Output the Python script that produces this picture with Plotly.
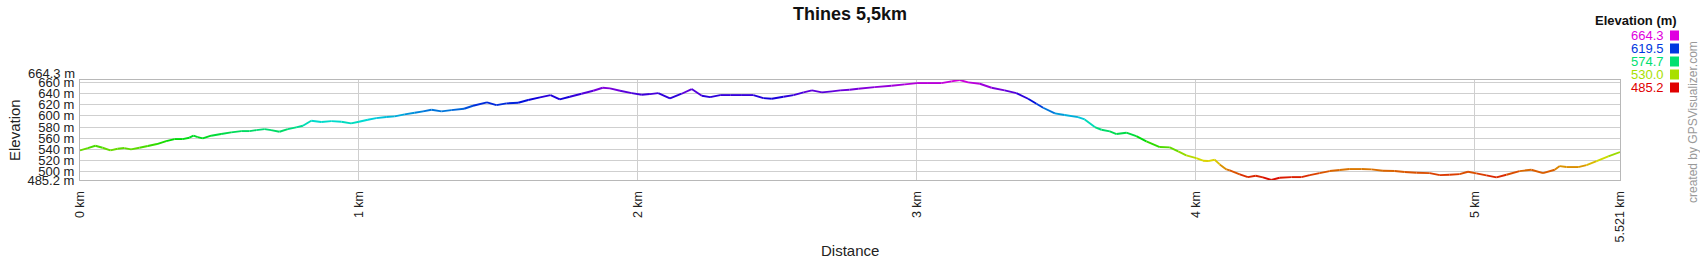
import colorsys
import plotly.graph_objects as go

# ---------------- data ----------------
DIST_KM = [
    0.000, 0.028, 0.055, 0.081, 0.109, 0.135, 0.159, 0.183, 0.213, 0.243, 0.276, 0.309, 0.339, 0.368, 0.392, 0.407,
    0.422, 0.440, 0.470, 0.506, 0.542, 0.578, 0.608, 0.632, 0.662, 0.685, 0.715, 0.745, 0.775, 0.799, 0.829, 0.865,
    0.901, 0.937, 0.972, 1.000, 1.032, 1.062, 1.098, 1.128, 1.164, 1.200, 1.230, 1.260, 1.296, 1.331, 1.377,
    1.409, 1.459, 1.493, 1.529, 1.571, 1.607, 1.649, 1.687, 1.720, 1.756, 1.798, 1.840, 1.874, 1.900, 1.936, 1.978,
    2.014, 2.043, 2.073, 2.115, 2.157, 2.193, 2.229, 2.259, 2.295, 2.331, 2.373, 2.414, 2.450, 2.480, 2.522, 2.558,
    2.594, 2.624, 2.660, 2.696, 2.725, 2.759,
    2.790, 2.849, 2.909, 2.957, 3.001, 3.040, 3.088, 3.124, 3.154, 3.184, 3.226, 3.268, 3.315, 3.357, 3.399, 3.429,
    3.453, 3.495, 3.530, 3.578, 3.602, 3.638, 3.662, 3.692, 3.716, 3.751, 3.787, 3.823, 3.871, 3.907, 3.937, 3.966,
    4.002, 4.026, 4.044, 4.068, 4.086, 4.110,
    4.122, 4.158, 4.187, 4.215, 4.241, 4.271, 4.301, 4.343, 4.379, 4.409, 4.444, 4.480, 4.516, 4.552, 4.594, 4.630,
    4.671, 4.713, 4.749, 4.791, 4.839, 4.875, 4.910, 4.946, 4.976, 5.006, 5.042, 5.078, 5.114, 5.161, 5.203, 5.245,
    5.287, 5.305, 5.329, 5.371, 5.401, 5.437, 5.479, 5.521,
]
ELEV_M = [
    538.2, 542.4, 546.6, 543.0, 538.2, 541.2, 542.4, 540.0, 543.0, 546.0, 549.6, 554.9, 558.5, 558.5, 560.9, 564.5,
    562.1, 559.7, 564.5, 567.5, 570.4, 572.8, 572.8, 574.6, 576.4, 574.6, 571.6, 576.4, 579.4, 582.4, 591.3, 589.0,
    590.7, 589.6, 586.6, 589.6, 593.1, 596.1, 597.9, 599.1, 602.7, 605.7, 608.1, 611.1, 608.1, 610.4, 612.8,
    618.2, 624.2, 619.4, 622.4, 623.6, 628.4, 633.1, 637.3, 629.6, 634.3, 639.7, 645.1, 650.4, 649.3, 645.1, 640.9,
    637.9, 639.1, 640.9, 631.3, 639.7, 648.1, 636.1, 633.7, 637.3, 637.3, 637.3, 637.3, 631.9, 630.7, 634.3, 637.3,
    642.1, 645.7, 642.1, 643.9, 645.7, 646.9,
    648.7, 651.6, 654.0, 656.4, 658.8, 658.8, 658.8, 661.8, 664.3, 660.0, 657.6, 650.4, 645.7, 640.9, 630.7, 621.8,
    614.6, 604.5, 601.5, 597.9, 593.7, 580.0, 575.2, 572.2, 567.5, 569.9, 563.9, 554.3, 544.2, 543.6, 536.4, 529.3,
    524.5, 519.7, 519.1, 521.5, 513.1, 504.2,
    502.4, 495.2, 490.4, 492.8, 489.9, 485.2, 489.3, 490.4, 490.4, 494.0, 497.6, 501.2, 503.0, 504.8, 504.8, 504.2,
    501.8, 501.2, 499.4, 498.2, 497.6, 494.0, 494.6, 495.8, 500.0, 497.0, 493.4, 489.9, 494.6, 501.2, 503.6, 497.6,
    503.6, 510.1, 508.4, 508.4, 511.9, 519.1, 527.5, 535.2,
]
X_TICK_VALUES = [0, 1, 2, 3, 4, 5, 5.521]
X_TICK_LABELS = ["0 km", "1 km", "2 km", "3 km", "4 km", "5 km", "5.521 km"]
Y_TICK_VALUES = [485.2, 500, 520, 540, 560, 580, 600, 620, 640, 660]
Y_TICK_LABELS = ["485.2 m", "500 m", "520 m", "540 m", "560 m", "580 m", "600 m", "620 m", "640 m", "660 m"]
Y_MAX_LABEL = "664.3 m"
LEGEND_VALUES = [664.3, 619.5, 574.7, 530.0, 485.2]
TITLE = "Thines 5,5km"

# ---------------- styling helpers ----------------
W, H = 1700, 260
L, R, T, B = 80, 80, 80, 80
PW, PH = W - L - R, H - T - B
FONT = "Liberation Sans, Arial, sans-serif"
YMIN, YMAX = min(ELEV_M), max(ELEV_M)


def px(xp):
    return (xp - L) / PW


def py(yp):
    return (H - B - yp) / PH


def elev_color(e, v=0.86):
    f = (e - YMIN) / (YMAX - YMIN)
    r, g, b = colorsys.hsv_to_rgb(f * 300 / 360, 1.0, v)
    return "rgb(%d,%d,%d)" % (round(r * 255), round(g * 255), round(b * 255))


fig = go.Figure()
for i in range(len(DIST_KM) - 1):
    mid = (ELEV_M[i] + ELEV_M[i + 1]) / 2
    fig.add_trace(go.Scatter(
        x=[DIST_KM[i], DIST_KM[i + 1]], y=[ELEV_M[i], ELEV_M[i + 1]],
        mode="lines", line=dict(color=elev_color(mid), width=1.9),
        showlegend=False, hoverinfo="skip"))

annotations = [
    dict(text=Y_MAX_LABEL, xref="paper", yref="y", x=0, y=YMAX, xanchor="right", yanchor="middle",
         xshift=-3, yshift=7, showarrow=False, font=dict(family=FONT, size=13, color="#222")),
    dict(text="Elevation", xref="paper", yref="paper", x=px(14), y=0.5, textangle=-90,
         xanchor="center", yanchor="middle",
         showarrow=False, font=dict(family=FONT, size=15, color="#222")),
    dict(text="Distance", xref="paper", yref="paper", x=0.5, y=py(250), xanchor="center", yanchor="middle",
         showarrow=False, font=dict(family=FONT, size=15, color="#222")),
    dict(text="<b>Elevation (m)</b>", xref="paper", yref="paper", x=px(1679), y=py(21),
         xanchor="right", yanchor="middle", showarrow=False, font=dict(family=FONT, size=13, color="#111")),
    dict(text="created by GPSVisualizer.com", xref="paper", yref="paper", x=px(1693), y=py(122),
         textangle=-90, xanchor="center", yanchor="middle", showarrow=False,
         font=dict(family=FONT, size=12, color="#999")),
]
shapes = []
for k, val in enumerate(LEGEND_VALUES):
    yc = 35.5 + k * 13
    col = elev_color(val, v=0.88)
    annotations.append(dict(text="%.1f" % val, xref="paper", yref="paper", x=px(1666), y=py(yc),
                            xanchor="right", yanchor="middle", showarrow=False,
                            font=dict(family=FONT, size=13, color=col)))
    shapes.append(dict(type="rect", xref="paper", yref="paper",
                       x0=px(1670), x1=px(1679), y0=py(yc + 5), y1=py(yc - 5),
                       fillcolor=col, line=dict(width=0)))

fig.update_layout(
    width=W, height=H, margin=dict(l=L, r=R, t=T, b=B),
    paper_bgcolor="white", plot_bgcolor="white",
    title=dict(text="<b>%s</b>" % TITLE, x=0.5, xref="container", xanchor="center",
               y=1 - 14 / H, yref="container", yanchor="middle",
               font=dict(family=FONT, size=18, color="#111")),
    xaxis=dict(range=[0, max(DIST_KM)], tickmode="array", tickvals=X_TICK_VALUES, ticktext=X_TICK_LABELS,
               tickangle=-90, ticks="", ticklabelstandoff=5, showgrid=True, gridcolor="#cfcfcf", gridwidth=1,
               zeroline=False, showline=True, mirror=True, linecolor="#b8b8b8", linewidth=1,
               tickfont=dict(family=FONT, size=12.5, color="#222")),
    yaxis=dict(range=[YMIN, YMAX], tickmode="array", tickvals=Y_TICK_VALUES, ticktext=Y_TICK_LABELS,
               ticks="", ticklabelstandoff=2, showgrid=True, gridcolor="#cfcfcf", gridwidth=1,
               zeroline=False, showline=True, mirror=True, linecolor="#b8b8b8", linewidth=1,
               tickfont=dict(family=FONT, size=13, color="#222")),
    annotations=annotations, shapes=shapes,
)

fig.write_html("out.html", config={"displayModeBar": False})
